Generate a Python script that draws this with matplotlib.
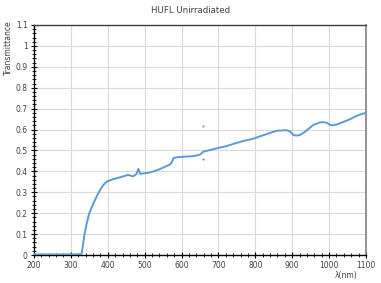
import matplotlib
matplotlib.use("Agg")
import matplotlib.pyplot as plt
from matplotlib.ticker import MultipleLocator

# Wavelength (nm) and transmittance
wavelength = [200, 250, 300, 329, 333, 337, 343, 350, 361, 370, 379, 388, 397, 410, 424,
              442, 455, 469, 478, 483, 488, 496, 510, 523, 540, 560, 569, 574, 578, 590,
              605, 625, 641, 650, 659, 675, 695, 720, 740, 767, 794, 830, 858, 885, 895,
              903, 912, 921, 935, 957, 975, 984, 995, 1002, 1010, 1020, 1038, 1055, 1074,
              1090, 1100]
transmittance = [0.003, 0.003, 0.003, 0.004, 0.05, 0.10, 0.152, 0.20, 0.247, 0.28, 0.311,
                 0.335, 0.351, 0.36, 0.367, 0.376, 0.383, 0.376, 0.388, 0.412, 0.388, 0.39,
                 0.393, 0.399, 0.41, 0.426, 0.433, 0.445, 0.464, 0.468, 0.47, 0.472, 0.476,
                 0.48, 0.494, 0.501, 0.51, 0.52, 0.531, 0.545, 0.556, 0.578, 0.594, 0.597,
                 0.59, 0.574, 0.571, 0.574, 0.59, 0.622, 0.634, 0.635, 0.632, 0.622, 0.62,
                 0.624, 0.636, 0.648, 0.665, 0.675, 0.68]
outlier_wl = [657, 657]
outlier_t = [0.619, 0.46]

title = "HUFL Unirradiated"
ylabel = "Transmittance"
xlabel = "λ(nm)"

color = "#5B9BD5"
tick_color = "#404040"

fig = plt.figure(figsize=(3.81, 2.83), dpi=100)
ax = fig.add_axes([0.0892, 0.0989, 0.8714, 0.8128])

ax.plot(wavelength, transmittance, color=color, lw=1.4, zorder=3)
ax.scatter(outlier_wl, outlier_t, s=2.5, color=color, zorder=3, linewidths=0)

ax.set_xlim(200, 1100)
ax.set_ylim(0, 1.1)
ax.xaxis.set_major_locator(MultipleLocator(100))
ax.xaxis.set_minor_locator(MultipleLocator(20))
ax.yaxis.set_major_locator(MultipleLocator(0.1))
ax.yaxis.set_minor_locator(MultipleLocator(0.02))
ax.set_yticks([i / 10 for i in range(12)])
ax.set_yticklabels(["0", "0.1", "0.2", "0.3", "0.4", "0.5", "0.6", "0.7", "0.8", "0.9", "1", "1.1"])

ax.grid(True, which="major", color="#D9D9D9", lw=0.8, zorder=0)
ax.set_axisbelow(True)

ax.tick_params(axis="both", which="major", direction="inout", length=4, width=0.8,
               color="black", labelsize=5.5, labelcolor=tick_color, pad=2.5)
ax.tick_params(axis="both", which="minor", direction="inout", length=2.5, width=0.6, color="black")

for side in ["left", "bottom"]:
    ax.spines[side].set_color("black")
    ax.spines[side].set_linewidth(1.0)
ax.spines["top"].set_color("#404040")
ax.spines["top"].set_linewidth(1.0)
ax.spines["right"].set_color("#808080")
ax.spines["right"].set_linewidth(1.2)

fig.text(0.5, 0.963, title, ha="center", va="center", fontsize=6.2, color="#404040")
fig.text(0.022, 0.83, ylabel, ha="center", va="center", rotation=90, fontsize=5.5, color="#404040")
fig.text(0.908, 0.028, xlabel, ha="center", va="center", fontsize=5.5, color="#404040")

fig.savefig("out.png", dpi=100, facecolor="white")
